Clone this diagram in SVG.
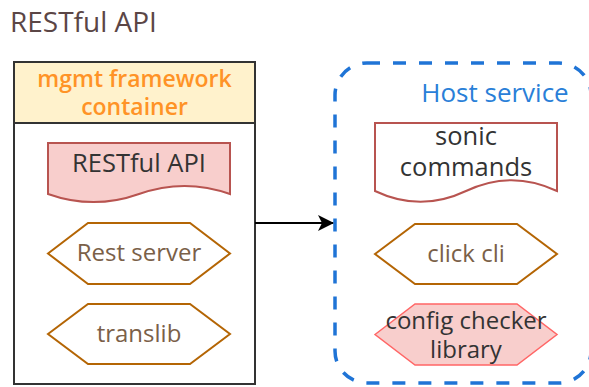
<svg xmlns="http://www.w3.org/2000/svg" width="589" height="387" viewBox="0 0 589 387">
  <style>
    text { font-family: "Open Sans", "Liberation Sans", sans-serif; }
    .title { font-size: 28px; fill: #5b4646; }
    .hdr { font-size: 23px; font-weight: 600; fill: #ff9326; text-anchor: middle; }
    .lbl { font-size: 25.5px; fill: #333333; text-anchor: middle; }
    .lbl-sm { font-size: 24px; fill: #333333; text-anchor: middle; }
    .brown { font-size: 24px; fill: #7a6048; text-anchor: middle; }
    .host { font-size: 26px; fill: #2a7fd8; text-anchor: middle; }
    .hex { fill: #ffffff; stroke: #b46504; stroke-width: 2; }
    .doc { stroke: #b85450; stroke-width: 2; }
  </style>
  <defs>
    <marker id="arrow" viewBox="0 0 16 16" refX="15" refY="8" markerWidth="16" markerHeight="16" markerUnits="userSpaceOnUse" orient="auto">
      <path d="M0,0 L16,8 L0,16 L4,8 Z" fill="#000000"/>
    </marker>
  </defs>

  <text class="title" x="10" y="32">RESTful API</text>

  <!-- mgmt framework container -->
  <g id="mgmt-container">
    <rect x="14" y="62" width="241" height="322" fill="#ffffff" stroke="#333333" stroke-width="2"/>
    <rect x="14" y="62" width="241" height="61" fill="#fff2cc" stroke="#333333" stroke-width="2"/>
    <text class="hdr" x="134.5" y="87">mgmt framework</text>
    <text class="hdr" x="134.5" y="115">container</text>
  </g>

  <g id="restful-api">
    <path class="doc" fill="#f8cecc" d="M48,143 H230 V194 Q184.5,177.8 139,194 Q93.5,210.2 48,194 Z"/>
    <text class="lbl" x="139" y="172">RESTful API</text>
  </g>

  <g id="rest-server">
    <polygon class="hex" points="48,253.5 88,223 190,223 230,253.5 190,284 88,284"/>
    <text class="brown" x="139" y="261">Rest server</text>
  </g>

  <g id="translib">
    <polygon class="hex" points="48,334 88,304 190,304 230,334 190,364 88,364"/>
    <text class="brown" x="139" y="342">translib</text>
  </g>

  <!-- Host service boundary -->
  <g id="host-service">
    <rect x="335" y="63" width="256" height="320" rx="32" ry="32" fill="none" stroke="#1f74d6" stroke-width="3.5" stroke-dasharray="13 13"/>
    <text class="host" x="495" y="102">Host service</text>
  </g>

  <g id="sonic-commands">
    <path class="doc" fill="#ffffff" d="M375,123 H557 V191 Q511.5,169.4 466,191 Q420.5,212.6 375,191 Z"/>
    <text class="lbl" x="466" y="145">sonic</text>
    <text class="lbl" x="466" y="176">commands</text>
  </g>

  <g id="click-cli">
    <polygon class="hex" points="375,254 415,224 517,224 557,254 517,284 415,284"/>
    <text class="brown" x="466" y="262">click cli</text>
  </g>

  <g id="config-checker">
    <polygon fill="#f8cecc" stroke="#ff6666" stroke-width="1.5" points="375,334.5 415,304 517,304 557,334.5 517,365 415,365"/>
    <text class="lbl-sm" x="466" y="329">config checker</text>
    <text class="lbl-sm" x="466" y="358">library</text>
  </g>

  <g id="connectors">
    <line x1="255" y1="223" x2="333" y2="223" stroke="#000000" stroke-width="2" marker-end="url(#arrow)"/>
  </g>
</svg>
